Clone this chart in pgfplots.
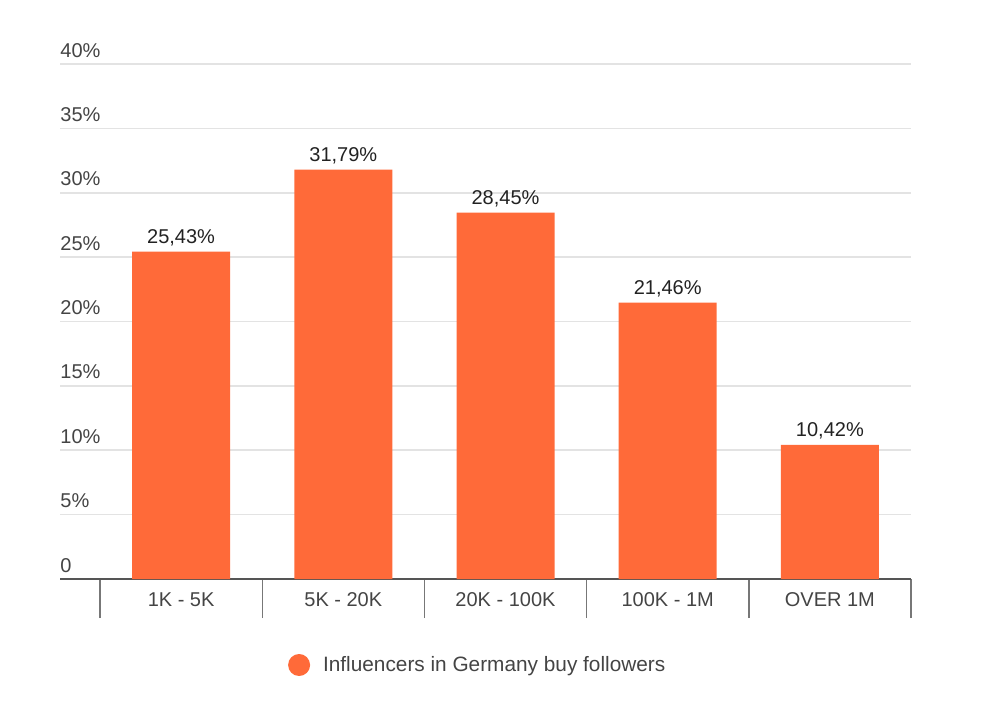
\documentclass[border=0pt]{standalone}
\usepackage{fontspec}
\setmainfont{Liberation Sans}
\usepackage{pgfplots}
\pgfplotsset{compat=1.18}

\definecolor{barorange}{HTML}{FF6A39}
\definecolor{ticktext}{HTML}{444444}
\definecolor{valtext}{HTML}{222222}
\definecolor{gridgray}{HTML}{E3E3E3}
\definecolor{axisgray}{HTML}{555555}
\definecolor{sepgray}{HTML}{777777}

\begin{document}
\fontsize{10}{12}\selectfont
\begin{tikzpicture}
\begin{axis}[
    name=ax,
    at={(0,0)}, anchor=south west,
    scale only axis,
    width=425.5pt, height=257.5pt,
    xmin=-0.7466, xmax=4.5,
    ymin=0, ymax=40,
    axis lines*=left,
    x axis line style={draw=axisgray, line width=1pt},
    y axis line style={draw=none},
    ymajorgrids=true,
    grid style={draw=gridgray, line width=0.8pt},
    ytick={0,5,...,40},
    yticklabels={0,5\%,10\%,15\%,20\%,25\%,30\%,35\%,40\%},
    ytick style={draw=none},
    yticklabel style={anchor=base west, inner sep=0pt, xshift=19.5pt, yshift=3.5pt, text=ticktext},
    xtick={-0.5,0.5,1.5,2.5,3.5,4.5},
    xticklabels={,,,,,},
    tick align=outside,
    major tick length=19.5pt,
    xtick style={draw=sepgray, line width=0.7pt},
    extra x ticks={0,1,2,3,4},
    extra x tick labels={1K - 5K,5K - 20K,20K - 100K,100K - 1M,OVER 1M},
    extra x tick style={major tick length=0pt, grid=none,
        xticklabel style={anchor=base, inner sep=0pt, yshift=-13.5pt, text=ticktext}},
    ybar, bar width=49pt, bar shift=0pt,
    nodes near coords,
    point meta=explicit symbolic,
    every node near coord/.append style={anchor=base, inner sep=0pt, yshift=4pt, text=valtext},
    legend style={at={(0.492,-0.167)}, anchor=center, draw=none, fill=none,
        text=ticktext, inner sep=0pt, font=\fontsize{10.4}{12}\selectfont},
    legend image code/.code={\fill[barorange] (5.5pt,0) circle (5.5pt); \path (15.5pt,0);},
    clip=false,
]
\addplot[fill=barorange, draw=none] coordinates {
    (0,25.43) [25,43\%]
    (1,31.79) [31,79\%]
    (2,28.45) [28,45\%]
    (3,21.46) [21,46\%]
    (4,10.42) [10,42\%]
};
\legend{Influencers in Germany buy followers}
\end{axis}
\pgfresetboundingbox
\path[use as bounding box] ([xshift=-30pt,yshift=-66.5pt]ax.south west) rectangle ++(500pt,356pt);
\end{tikzpicture}
\end{document}
